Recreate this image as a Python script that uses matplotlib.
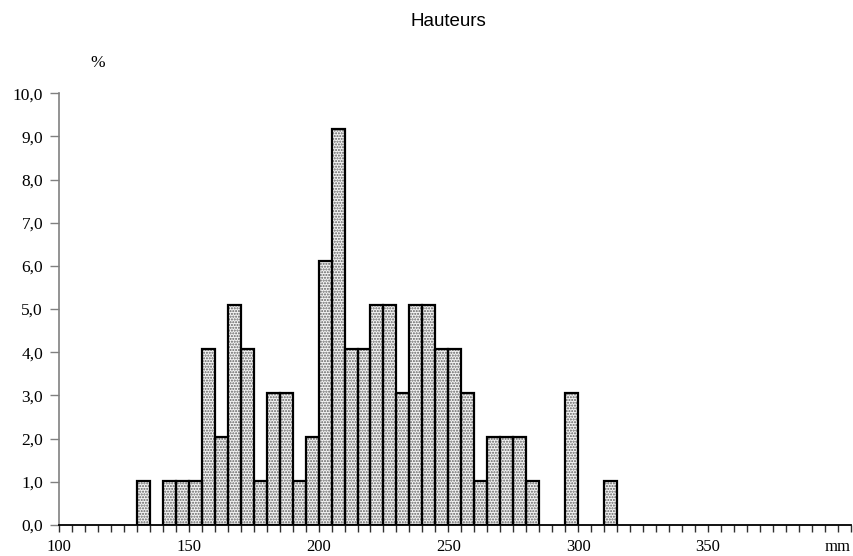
import matplotlib.pyplot as plt
import numpy as np

# Histogram of heights (%), bins of 5 mm
bin_start = [130, 140, 145, 150, 155, 160, 165, 170, 175, 180, 185, 190, 195,
             200, 205, 210, 215, 220, 225, 230, 235, 240, 245, 250, 255, 260,
             265, 270, 275, 280, 295, 310]
pct = [1.02, 1.02, 1.02, 1.02, 4.08, 2.04, 5.10, 4.08, 1.02, 3.06, 3.06, 1.02, 2.04,
       6.12, 9.18, 4.08, 4.08, 5.10, 5.10, 3.06, 5.10, 5.10, 4.08, 4.08, 3.06, 1.02,
       2.04, 2.04, 2.04, 1.02, 3.06, 1.02]
x_labels = ['100', '150', '200', '250', '300', '350', 'mm']
x_label_pos = [100, 150, 200, 250, 300, 350, 400]

serif = 'Liberation Serif'

fig = plt.figure(figsize=(8.54, 5.56), dpi=100)
ax = fig.add_axes([0.0691, 0.0558, 0.927, 0.7765])

# dotted fill, then black outline on top
ax.bar(bin_start, pct, width=5, align='edge', color='#f4f4f4',
       edgecolor='#606060', hatch='......', linewidth=0, zorder=2)
ax.bar(bin_start, pct, width=5, align='edge', fill=False,
       edgecolor='black', linewidth=1.6, zorder=3)

ax.set_xlim(100, 405)
ax.set_ylim(0, 10)

ax.set_yticks(np.arange(0, 11, 1))
ax.set_yticklabels([f"{v:.1f}".replace('.', ',') for v in np.arange(0, 11, 1)],
                   fontfamily=serif, fontsize=12.5)
ax.set_xticks(x_label_pos)
ax.set_xticklabels(x_labels, fontfamily=serif, fontsize=12)
ax.set_xticks(np.arange(100, 406, 5), minor=True)

ax.tick_params(axis='y', length=6.5, width=1, color='#808080', pad=5)
ax.tick_params(axis='x', which='both', length=5, width=1, color='#303030', pad=5)

for s in ['top', 'right']:
    ax.spines[s].set_visible(False)
ax.spines['left'].set_color('#808080')
ax.spines['left'].set_linewidth(1.2)
ax.spines['bottom'].set_color('black')
ax.spines['bottom'].set_linewidth(1.3)
ax.spines['bottom'].set_zorder(4)

fig.text(448 / 854, 1 - 22 / 556, 'Hauteurs', ha='center', va='center',
         fontfamily='Liberation Sans', fontsize=13.5)
fig.text(98 / 854, 1 - 63 / 556, '%', ha='center', va='center',
         fontfamily=serif, fontsize=12.5)

plt.savefig('out.png', dpi=100)
